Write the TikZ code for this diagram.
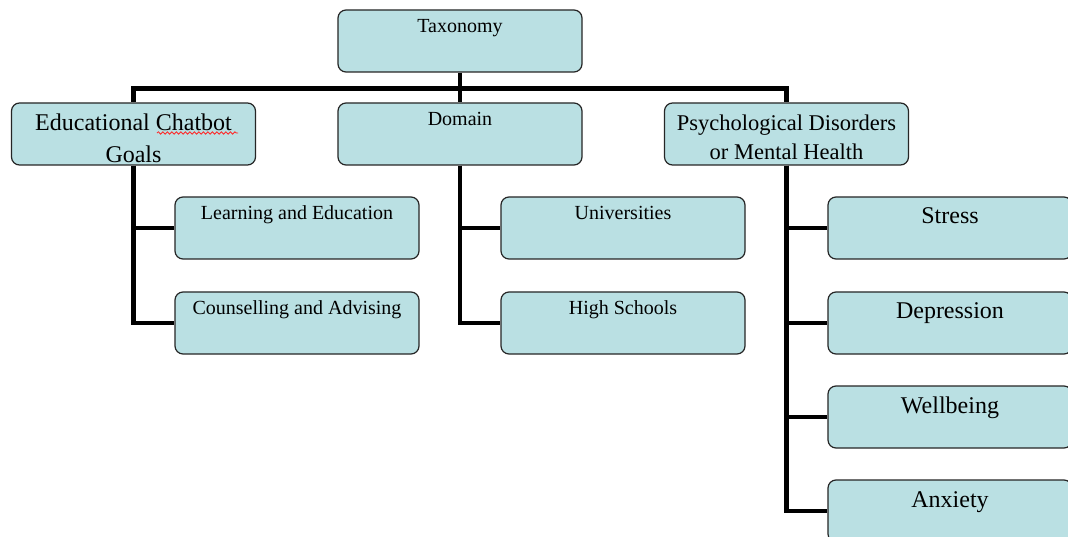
\documentclass[tikz,border=0pt]{standalone}
\usepackage{fontspec}
\setmainfont{Liberation Serif}
\usetikzlibrary{decorations.pathmorphing}

\definecolor{boxfill}{HTML}{BAE0E3}
\tikzset{
  box/.style={draw=black!85, line width=1.2pt, fill=boxfill, rounded corners=8pt,
    minimum width=244pt, minimum height=62pt, inner sep=0pt},
  small/.style={font=\fontsize{20}{24}\selectfont, text height=14pt, text depth=30pt},
  large/.style={font=\fontsize{24}{30}\selectfont, text height=18pt, text depth=26pt},
  twoline/.style={align=center},
  conn/.style={line width=4.5pt, black}
}

\begin{document}
\begin{tikzpicture}[x=1pt,y=-1pt]
    \useasboundingbox (0,0) rectangle (1068,537);
    \fill[white] (0,0) rectangle (1068,537);
    \clip (0,0) rectangle (1068,537);

    \node[box,small] (tax) at (460,41) {Taxonomy};
    \node[box,twoline,font=\fontsize{24}{32}\selectfont] (goals) at (133.5,134)
        {\rule{0pt}{25pt}Educational Chatbot\\Goals};
    \node[box,small] (domain) at (460,134) {Domain};
    \node[box,twoline,font=\fontsize{22.5}{29}\selectfont] (psych) at (786.5,134)
        {\rule{0pt}{22pt}Psychological Disorders\\or Mental Health};

    \node[box,small] (learn) at (297,228) {Learning and Education};
    \node[box,small] (couns) at (297,323) {Counselling and Advising};

    \node[box,small] (univ) at (623,228) {Universities};
    \node[box,small] (high) at (623,323) {High Schools};

    \node[box,large] (stress) at (950,228) {Stress};
    \node[box,large] (depr)   at (950,323) {Depression};
    \node[box,large] (well)   at (950,417) {Wellbeing};
    \node[box,large] (anx)    at (950,511) {Anxiety};

    \coordinate (bar) at ([yshift=-16pt]tax.south);

    % tree lines
    \draw[conn] (tax.south) -- (domain.north);
    \draw[conn] (bar) -| (goals.north);
    \draw[conn] (bar) -| (psych.north);

    \draw[conn] (goals.south) |- (learn.west);
    \draw[conn] (goals.south) |- (couns.west);
    \draw[conn] (domain.south) |- (univ.west);
    \draw[conn] (domain.south) |- (high.west);
    \foreach \n in {stress,depr,well,anx}
        \draw[conn] (psych.south) |- (\n.west);

    % spell-check squiggle under "Chatbot"
    \draw[red!85, line width=0.8pt, decorate,
        decoration={snake, amplitude=1.2pt, segment length=4.5pt}] (157,133) -- (238,133);
\end{tikzpicture}
\end{document}
